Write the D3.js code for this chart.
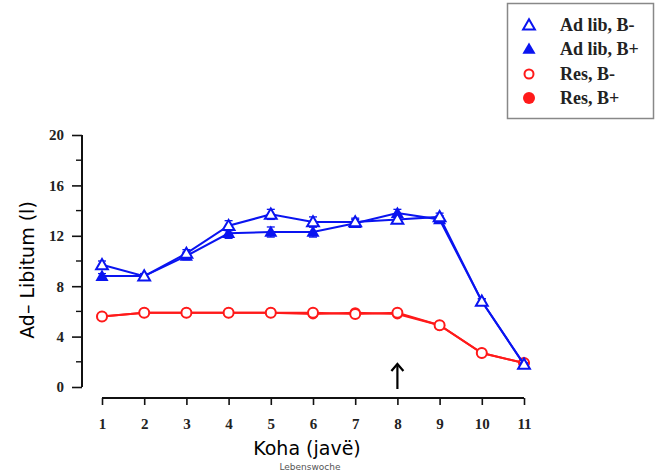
<!DOCTYPE html>
<html><head><meta charset="utf-8">
<script src="https://cdn.jsdelivr.net/npm/d3@7"></script>
<style>body{margin:0;background:#fff}svg{display:block}</style>
</head><body><svg id="c" width="660" height="471"></svg>
<script>
const weeks = [1,2,3,4,5,6,7,8,9,10,11];
const adLibBminus = [9.7,8.8,10.6,12.8,13.7,13.1,13.1,13.3,13.5,6.8,1.8];
const adLibBplus  = [8.8,8.8,10.4,12.2,12.3,12.3,13.0,13.8,13.3,6.8,1.8];
const resBminus   = [5.6,5.9,5.9,5.9,5.9,5.9,5.8,5.9,4.9,2.7,1.9];
const resBplus    = [5.6,5.9,5.9,5.9,5.9,5.8,5.9,5.8,4.9,2.7,1.9];
const errAdLibBminus = [0.3,0.2,0.3,0.4,0.4,0.4,0.3,0.3,0.3,0.2,0.1];
const errAdLibBplus  = [0.2,0.2,0.3,0.4,0.4,0.4,0.3,0.3,0.3,0.2,0.1];
const yTicks = [0,4,8,12,16,20];
const yMinor = [2,6,10,14,18];
const legendLabels = ["Ad lib, B-","Ad lib, B+","Res, B-","Res, B+"];
const yTitle = "Ad– Libitum (l)";
const xTitle = "Koha (javë)";
const subTitle = "Lebenswoche";
const arrowWeek = 8;

const svg = d3.select("#c");
const x = d3.scaleLinear().domain([1,11]).range([102,524]);
const y = d3.scaleLinear().domain([0,20]).range([387,135]);
const blue = "#0a14f0", red = "#ff1a1a";

// Y axis
const yAxis = svg.append("g").attr("transform","translate(82,0)")
  .call(d3.axisLeft(y).tickValues(yTicks).tickSize(10).tickPadding(8).tickFormat(d3.format("d")));
yAxis.select(".domain").attr("stroke","#111").attr("stroke-width",2).attr("d","M0,135V387");
yAxis.selectAll(".tick line").attr("stroke","#111").attr("stroke-width",1.6);
yAxis.selectAll("text").attr("font-family","Liberation Serif").attr("font-weight","bold").attr("font-size",15).attr("fill","#222");
svg.append("g").attr("transform","translate(82,0)").selectAll("line").data(yMinor).join("line")
  .attr("x1",-6).attr("x2",0).attr("y1",d=>y(d)).attr("y2",d=>y(d)).attr("stroke","#111").attr("stroke-width",1.4);

// X axis (detached)
const xAxis = svg.append("g").attr("transform","translate(0,398)")
  .call(d3.axisBottom(x).tickValues(weeks).tickSize(-7).tickPadding(20).tickFormat(d3.format("d")));
xAxis.select(".domain").attr("stroke","#111").attr("stroke-width",2.2).attr("d","M102,0H524");
xAxis.selectAll(".tick line").attr("stroke","#111").attr("stroke-width",1.6).attr("y1",0).attr("y2",7);
xAxis.selectAll("text").attr("font-family","Liberation Serif").attr("font-weight","bold").attr("font-size",15).attr("fill","#222");

// titles
svg.append("text").attr("transform","translate(34,270) rotate(-90)").attr("text-anchor","middle")
  .attr("font-family","DejaVu Sans").attr("font-size",19).attr("fill","#000").text(yTitle);
svg.append("text").attr("x",307).attr("y",455).attr("text-anchor","middle")
  .attr("font-family","DejaVu Sans").attr("font-size",19).attr("fill","#000").text(xTitle);
svg.append("text").attr("x",310).attr("y",470).attr("text-anchor","middle")
  .attr("font-family","DejaVu Sans").attr("font-size",9).attr("fill","#555").text(subTitle);

// arrow
svg.append("line").attr("x1",x(arrowWeek)).attr("x2",x(arrowWeek)).attr("y1",389).attr("y2",366)
  .attr("stroke","#000").attr("stroke-width",2.2);
svg.append("path").attr("d",`M${x(arrowWeek)-6},${371}L${x(arrowWeek)},${364}L${x(arrowWeek)+6},${371}`)
  .attr("fill","none").attr("stroke","#000").attr("stroke-width",2.2);

const line = d3.line().x((d,i)=>x(weeks[i])).y(d=>y(d));
const tri = d3.symbol().type(d3.symbolTriangle).size(75);
const triL = d3.symbol().type(d3.symbolTriangle).size(60);

function errBars(vals, errs, color){
  const g = svg.append("g").attr("stroke",color).attr("stroke-width",1.3);
  vals.forEach((v,i)=>{
    const cx=x(weeks[i]);
    g.append("line").attr("x1",cx).attr("x2",cx).attr("y1",y(v+errs[i])).attr("y2",y(v-errs[i]));
    g.append("line").attr("x1",cx-4).attr("x2",cx+4).attr("y1",y(v+errs[i])).attr("y2",y(v+errs[i]));
    g.append("line").attr("x1",cx-4).attr("x2",cx+4).attr("y1",y(v-errs[i])).attr("y2",y(v-errs[i]));
  });
}

// Res B+ (filled circles)
svg.append("path").attr("d",line(resBplus)).attr("fill","none").attr("stroke",red).attr("stroke-width",2);
svg.append("g").selectAll("circle").data(resBplus).join("circle")
  .attr("cx",(d,i)=>x(weeks[i])).attr("cy",d=>y(d)).attr("r",5.5).attr("fill",red);
// Res B- (open circles)
svg.append("path").attr("d",line(resBminus)).attr("fill","none").attr("stroke",red).attr("stroke-width",2);
svg.append("g").selectAll("circle").data(resBminus).join("circle")
  .attr("cx",(d,i)=>x(weeks[i])).attr("cy",d=>y(d)).attr("r",5).attr("fill","#fff").attr("stroke",red).attr("stroke-width",2);

// Ad lib B+ (filled triangles)
errBars(adLibBplus, errAdLibBplus, blue);
svg.append("path").attr("d",line(adLibBplus)).attr("fill","none").attr("stroke",blue).attr("stroke-width",2);
svg.append("g").selectAll("path").data(adLibBplus).join("path")
  .attr("d",tri).attr("transform",(d,i)=>`translate(${x(weeks[i])},${y(d)+1})`).attr("fill",blue);
// Ad lib B- (open triangles)
errBars(adLibBminus, errAdLibBminus, blue);
svg.append("path").attr("d",line(adLibBminus)).attr("fill","none").attr("stroke",blue).attr("stroke-width",2);
svg.append("g").selectAll("path").data(adLibBminus).join("path")
  .attr("d",triL).attr("transform",(d,i)=>`translate(${x(weeks[i])},${y(d)+1})`)
  .attr("fill","#fff").attr("stroke",blue).attr("stroke-width",2);

// legend
const lg = svg.append("g");
lg.append("rect").attr("x",507.5).attr("y",3.5).attr("width",146).attr("height",115)
  .attr("fill","#fff").attr("stroke","#888").attr("stroke-width",1.5);
const rowsY = [25,49,74,98];
legendLabels.forEach((lab,i)=>{
  const cy = rowsY[i], cx = 529;
  if(i===0) lg.append("path").attr("d",triL).attr("transform",`translate(${cx},${cy+1})`).attr("fill","#fff").attr("stroke",blue).attr("stroke-width",2);
  if(i===1) lg.append("path").attr("d",tri).attr("transform",`translate(${cx},${cy+1})`).attr("fill",blue);
  if(i===2) lg.append("circle").attr("cx",cx).attr("cy",cy).attr("r",4.5).attr("fill","#fff").attr("stroke",red).attr("stroke-width",2);
  if(i===3) lg.append("circle").attr("cx",cx).attr("cy",cy).attr("r",6).attr("fill",red);
  lg.append("text").attr("x",560).attr("y",cy+6).attr("font-family","Liberation Serif").attr("font-weight","bold")
    .attr("font-size",18).attr("fill","#222").text(lab);
});
</script></body></html>
